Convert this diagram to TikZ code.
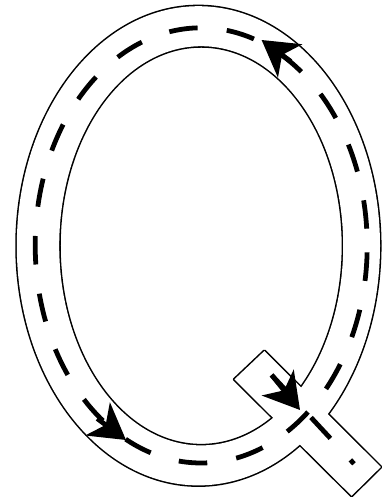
\documentclass[tikz,border=0pt]{standalone}
\usetikzlibrary{arrows.meta}
\begin{document}
\begin{tikzpicture}[line join=round,
  edge/.style={line width=2.2pt},
  marking/.style={line width=3.4pt,dash pattern=on 20.3pt off 20.9pt},
  headtip/.style={line width=3.4pt,-{Stealth[length=25pt,width=29pt,inset=7pt]}}]
  \useasboundingbox (0,0) rectangle (9.525,12.475);
  \draw[edge] (4.96,6.33) ellipse (4.54 and 5.99);
  \draw[edge] (5.03,6.33) ellipse (3.55 and 4.99);
  \draw[edge] (5.86,2.99) -- (6.61,3.70) -- (9.52,0.80) -- (8.79,0.08) -- cycle;
  \fill[white,even odd rule] (4.96,6.33) ellipse (4.54 and 5.99) (5.03,6.33) ellipse (3.55 and 4.99);
  \fill[white] (5.86,2.99) -- (6.61,3.70) -- (9.52,0.80) -- (8.79,0.08) -- cycle;
  \draw[marking,dash phase=34.7pt] (5.03,6.34) ++(2:4.15 and 5.44)
    arc[start angle=2,end angle=362,x radius=4.15,y radius=5.44];
  \draw[marking] (6.79,3.10) -- (8.85,0.88);
  \draw[headtip] (7.27,10.94) -- (6.54,11.475);
  \draw[headtip] (2.43,2.01) -- (3.15,1.475);
  \draw[headtip] (6.79,3.10) -- (7.50,2.225);
\end{tikzpicture}
\end{document}
